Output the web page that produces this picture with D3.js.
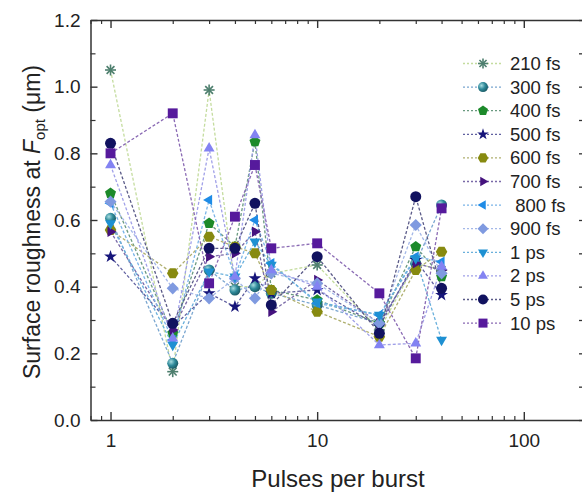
<!DOCTYPE html>
<html>
<head>
<meta charset="utf-8">
<script src="https://cdn.jsdelivr.net/npm/d3@7"></script>
<style>
  body { margin: 0; background: #fff; }
  svg { display: block; font-family: Arial, "Liberation Sans", sans-serif; }
</style>
</head>
<body>
<div id="chart"></div>
<script>
// pulses per burst
const pulses = [1, 2, 3, 4, 5, 6, 10, 20, 30, 40];
const seriesNames = ['210 fs', '300 fs', '400 fs', '500 fs', '600 fs', '700 fs', ' 800 fs', '900 fs', '1 ps', '2 ps', '5 ps', '10 ps'];
// surface roughness (um), one array per pulse duration
const r210fs = [1.05, 0.145, 0.99, 0.40, 0.40, 0.44, 0.465, 0.27, 0.47, 0.45];
const r300fs = [0.605, 0.17, 0.45, 0.39, 0.40, 0.38, 0.345, 0.29, 0.47, 0.645];
const r400fs = [0.68, 0.26, 0.59, 0.52, 0.835, 0.39, 0.36, 0.29, 0.52, 0.43];
const r500fs = [0.49, 0.28, 0.38, 0.34, 0.425, 0.38, 0.39, 0.28, 0.48, 0.375];
const r600fs = [0.57, 0.44, 0.55, 0.52, 0.50, 0.39, 0.325, 0.25, 0.45, 0.505];
const r700fs = [0.565, 0.27, 0.49, 0.50, 0.565, 0.325, 0.42, 0.29, 0.47, 0.45];
const r800fs = [0.65, 0.24, 0.66, 0.43, 0.60, 0.47, 0.35, 0.315, 0.49, 0.475];
const r900fs = [0.655, 0.395, 0.365, 0.425, 0.365, 0.44, 0.41, 0.29, 0.585, 0.44];
const r1ps = [0.59, 0.225, 0.445, 0.43, 0.535, 0.465, 0.355, 0.315, 0.485, 0.24];
const r2ps = [0.765, 0.245, 0.815, 0.43, 0.855, 0.45, 0.40, 0.225, 0.23, 0.46];
const r5ps = [0.83, 0.29, 0.515, 0.515, 0.65, 0.345, 0.49, 0.26, 0.67, 0.395];
const r10ps = [0.80, 0.92, 0.41, 0.61, 0.765, 0.515, 0.53, 0.38, 0.185, 0.635];
const yTicks = [0.0, 0.2, 0.4, 0.6, 0.8, 1.0, 1.2];
const xTicks = [1, 10, 100];

const allValues = [r210fs, r300fs, r400fs, r500fs, r600fs, r700fs, r800fs, r900fs, r1ps, r2ps, r5ps, r10ps];

// marker styles
const styles = [
  { color: '#4e7f6e', line: '#c4dc9e', sym: 'asterisk' },
  { color: '#2f8a9a', line: '#7aa6d0', sym: 'sphere' },
  { color: '#1c8a2a', line: '#6a9a80', sym: 'pentagon' },
  { color: '#16157a', line: '#6060a0', sym: 'star' },
  { color: '#878a10', line: '#b0b070', sym: 'hexagon' },
  { color: '#45127e', line: '#7a6aa8', sym: 'right' },
  { color: '#1f8ce6', line: '#7ab4e8', sym: 'left' },
  { color: '#7f9ae0', line: '#a4b8e8', sym: 'diamond' },
  { color: '#1e90d2', line: '#6ab0dc', sym: 'down' },
  { color: '#8383f2', line: '#a0a0e8', sym: 'up' },
  { color: '#11125f', line: '#5a5a88', sym: 'circle' },
  { color: '#561a9c', line: '#8a6ab4', sym: 'square' }
];

const W = 582, H = 492;
const x = d3.scaleLog().domain([0.8, 200]).range([90.5, 586]);
const y = d3.scaleLinear().domain([0, 1.2]).range([420, 20]);

const svg = d3.select('#chart').append('svg').attr('width', W).attr('height', H);

const defs = svg.append('defs');
const grad = defs.append('radialGradient').attr('id', 'sph').attr('cx', '35%').attr('cy', '35%').attr('r', '65%');
grad.append('stop').attr('offset', '0%').attr('stop-color', '#a8dde0');
grad.append('stop').attr('offset', '55%').attr('stop-color', '#2f8a9a');
grad.append('stop').attr('offset', '100%').attr('stop-color', '#1d5f6a');

// polygon path helper
const poly = (n, r, rot) => {
  const pts = d3.range(n).map(i => {
    const a = rot + i * 2 * Math.PI / n;
    return [r * Math.cos(a), r * Math.sin(a)];
  });
  return 'M' + pts.map(p => p.join(',')).join('L') + 'Z';
};

const drawSymbol = (g, s, px, py, size) => {
  const r = size / 2;
  const t = g.append('g').attr('transform', `translate(${px},${py})`);
  const c = s.color;
  switch (s.sym) {
    case 'asterisk':
      [0, 45, 90, 135].forEach(a => {
        t.append('line').attr('x1', -r).attr('x2', r).attr('y1', 0).attr('y2', 0)
          .attr('transform', `rotate(${a})`).attr('stroke', c).attr('stroke-width', 1.6);
      });
      break;
    case 'sphere':
      t.append('circle').attr('r', r).attr('fill', 'url(#sph)');
      break;
    case 'circle':
      t.append('circle').attr('r', r).attr('fill', c);
      break;
    case 'pentagon':
      t.append('path').attr('d', poly(5, r * 1.05, -Math.PI / 2)).attr('fill', c);
      break;
    case 'hexagon':
      t.append('path').attr('d', poly(6, r * 1.05, 0)).attr('fill', c);
      break;
    case 'star':
      t.append('path').attr('d', d3.symbol(d3.symbolStar, size * size * 0.42)()).attr('fill', c);
      break;
    case 'right':
      t.append('path').attr('d', poly(3, r * 1.1, 0)).attr('fill', c);
      break;
    case 'left':
      t.append('path').attr('d', poly(3, r * 1.1, Math.PI)).attr('fill', c);
      break;
    case 'up':
      t.append('path').attr('d', poly(3, r * 1.15, -Math.PI / 2)).attr('fill', c);
      break;
    case 'down':
      t.append('path').attr('d', poly(3, r * 1.15, Math.PI / 2)).attr('fill', c);
      break;
    case 'diamond':
      t.append('path').attr('d', poly(4, r * 1.1, 0)).attr('fill', c);
      break;
    case 'square':
      t.append('rect').attr('x', -r * 0.9).attr('y', -r * 0.9).attr('width', r * 1.8).attr('height', r * 1.8).attr('fill', c);
      break;
  }
};

// lines
const line = d3.line().x(d => x(d[0])).y(d => y(d[1]));
const series = seriesNames.map((name, i) => ({
  name: name,
  style: styles[i],
  points: pulses.map((p, j) => [p, allValues[i][j]])
}));

const plot = svg.append('g');
plot.selectAll('path.ln').data(series).enter().append('path')
  .attr('class', 'ln')
  .attr('d', d => line(d.points))
  .attr('fill', 'none')
  .attr('stroke', d => d.style.line)
  .attr('stroke-width', 1.3)
  .attr('stroke-dasharray', '3,2');

series.forEach(s => {
  s.points.forEach(p => drawSymbol(plot, s.style, x(p[0]), y(p[1]), 11));
});

// frame and axes (ticks point inward)
const minorX = [];
[0.1, 1, 10, 100].forEach(dec => d3.range(1, 10).forEach(k => {
  const v = dec * k;
  if (v >= 0.8 && v <= 200 && !xTicks.includes(v)) minorX.push(v);
}));

svg.append('g').attr('transform', 'translate(0,420)')
  .call(d3.axisBottom(x).tickValues(xTicks).tickFormat(d3.format('d')).tickSizeInner(-8).tickSizeOuter(0).tickPadding(14))
  .call(g => g.select('.domain').attr('stroke', '#333').attr('stroke-width', 1.5))
  .call(g => g.selectAll('.tick line').attr('stroke', '#333').attr('stroke-width', 1.4))
  .call(g => g.selectAll('.tick text').attr('font-size', 19).attr('fill', '#222'));
svg.append('g').attr('transform', 'translate(0,420)')
  .call(d3.axisBottom(x).tickValues(minorX).tickFormat('').tickSizeInner(-4).tickSizeOuter(0))
  .call(g => g.select('.domain').remove())
  .call(g => g.selectAll('.tick line').attr('stroke', '#333').attr('stroke-width', 1.2));

svg.append('g').attr('transform', 'translate(0,20)')
  .call(d3.axisTop(x).tickValues(xTicks).tickFormat('').tickSizeInner(-8).tickSizeOuter(0))
  .call(g => g.select('.domain').attr('stroke', '#333').attr('stroke-width', 1.5))
  .call(g => g.selectAll('.tick line').attr('stroke', '#333').attr('stroke-width', 1.4));
svg.append('g').attr('transform', 'translate(0,20)')
  .call(d3.axisTop(x).tickValues(minorX).tickFormat('').tickSizeInner(-4).tickSizeOuter(0))
  .call(g => g.select('.domain').remove())
  .call(g => g.selectAll('.tick line').attr('stroke', '#333').attr('stroke-width', 1.2));

const minorY = [0.1, 0.3, 0.5, 0.7, 0.9, 1.1];
svg.append('g').attr('transform', 'translate(90.5,0)')
  .call(d3.axisLeft(y).tickValues(yTicks).tickFormat(d3.format('.1f')).tickSizeInner(-7).tickSizeOuter(0).tickPadding(10))
  .call(g => g.select('.domain').attr('stroke', '#333').attr('stroke-width', 1.5))
  .call(g => g.selectAll('.tick line').attr('stroke', '#333').attr('stroke-width', 1.4))
  .call(g => g.selectAll('.tick text').attr('font-size', 19).attr('fill', '#222'));
svg.append('g').attr('transform', 'translate(90.5,0)')
  .call(d3.axisLeft(y).tickValues(minorY).tickFormat('').tickSizeInner(-5).tickSizeOuter(0))
  .call(g => g.select('.domain').remove())
  .call(g => g.selectAll('.tick line').attr('stroke', '#333').attr('stroke-width', 1.2));
svg.append('g').attr('transform', 'translate(586,0)')
  .call(d3.axisRight(y).tickValues(yTicks.concat(minorY)).tickFormat('').tickSizeInner(-7).tickSizeOuter(0))
  .call(g => g.select('.domain').attr('stroke', '#333').attr('stroke-width', 1.5))
  .call(g => g.selectAll('.tick line').attr('stroke', '#333').attr('stroke-width', 1.3));

// axis titles
svg.append('text').attr('x', 338).attr('y', 487).attr('text-anchor', 'middle')
  .attr('font-size', 24).attr('fill', '#222').text('Pulses per burst');

const yt = svg.append('text').attr('transform', 'translate(40,222) rotate(-90)')
  .attr('text-anchor', 'middle').attr('font-size', 23).attr('fill', '#222');
yt.append('tspan').text('Surface roughness at ');
yt.append('tspan').attr('font-style', 'italic').text('F');
yt.append('tspan').attr('font-size', 15).attr('dy', 5).text('opt');
yt.append('tspan').attr('dy', -5).text(' (\u03bcm)');

// legend
const legend = svg.append('g');
series.forEach((s, i) => {
  const ly = 63.5 + i * 23.6;
  legend.append('line').attr('x1', 463).attr('x2', 503).attr('y1', ly).attr('y2', ly)
    .attr('stroke', s.style.line).attr('stroke-width', 1.3).attr('stroke-dasharray', '2,2');
  drawSymbol(legend, s.style, 483, ly, 10);
  legend.append('text').attr('x', 510).attr('y', ly + 6.5).attr('font-size', 18.5).attr('fill', '#222')
    .attr('xml:space', 'preserve').style('white-space', 'pre').text(s.name);
});
</script>
</body>
</html>
